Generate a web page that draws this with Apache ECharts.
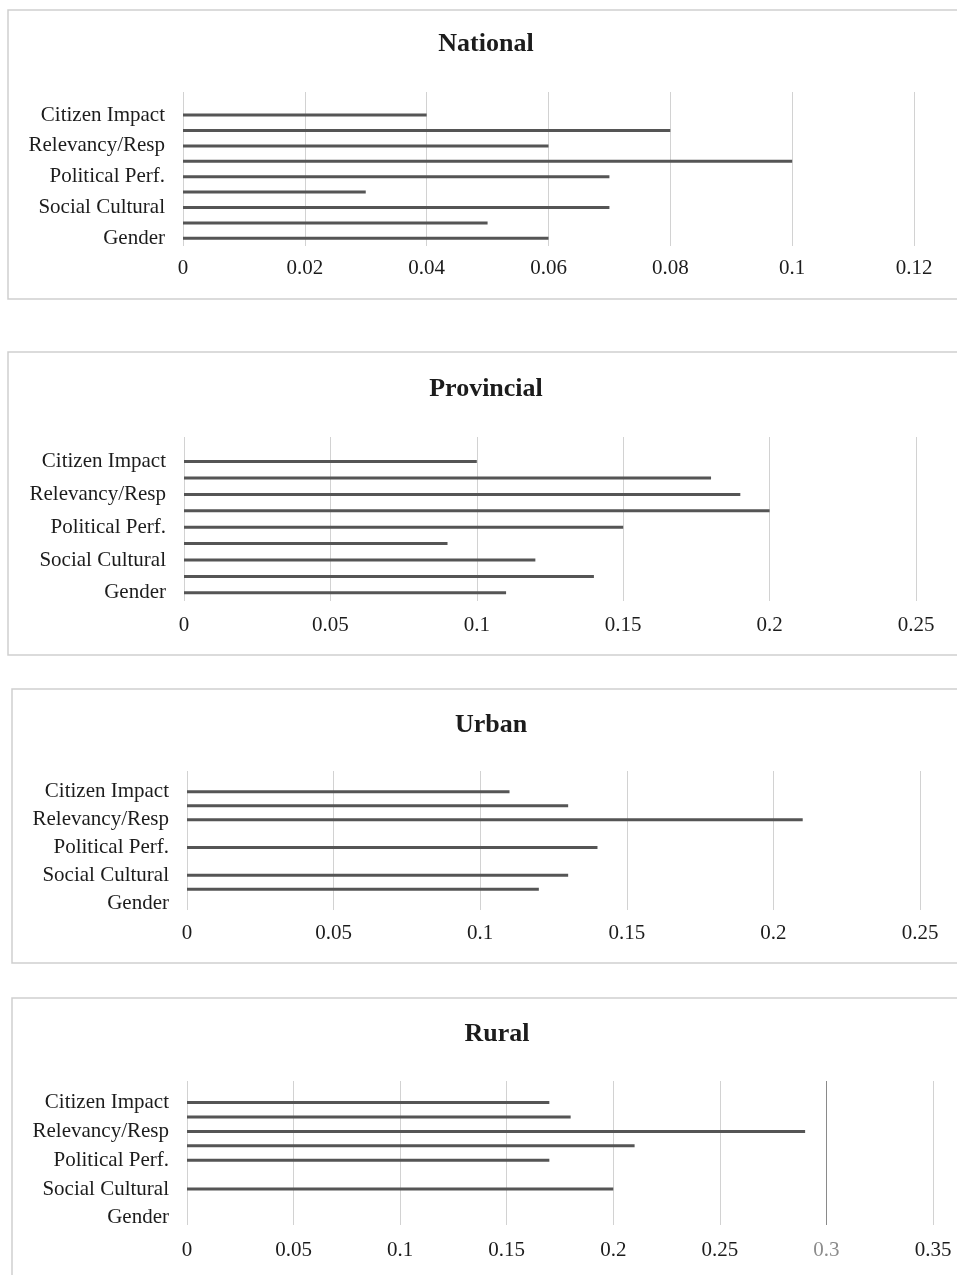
<!DOCTYPE html>
<html>
<head>
<meta charset="utf-8">
<script src="https://cdn.jsdelivr.net/npm/echarts@6/dist/echarts.min.js"></script>
<style>
html,body{margin:0;padding:0;background:#fff;}
#c{width:957px;height:1275px;}
</style>
</head>
<body>
<div id="c"></div>
<script>
// Categories, top to bottom (only every other one is labelled in the original)
var categories = ['(blank)', 'Citizen Impact', 'Accountability', 'Relevancy/Resp', 'Transparency',
                  'Political Perf.', 'Economic Perf.', 'Social Cultural', 'Legal', 'Gender'];
var panelTitles = ['National', 'Provincial', 'Urban', 'Rural'];

var nationalValues   = [0, 0.04, 0.08, 0.06, 0.10, 0.07, 0.03, 0.07, 0.05, 0.06];
var provincialValues = [0, 0.10, 0.18, 0.19, 0.20, 0.15, 0.09, 0.12, 0.14, 0.11];
var urbanValues      = [0, 0.11, 0.13, 0.21, 0, 0.14, 0, 0.13, 0.12, 0];
var ruralValues      = [0, 0.17, 0.18, 0.29, 0.21, 0.17, 0, 0.20, 0, 0];

var nationalTicks   = [0, 0.12, 0.02];
var provincialTicks = [0, 0.25, 0.05];
var urbanTicks      = [0, 0.25, 0.05];
var ruralTicks      = [0, 0.35, 0.05];

var allValues = [nationalValues, provincialValues, urbanValues, ruralValues];
var allTicks = [nationalTicks, provincialTicks, urbanTicks, ruralTicks];

var FONT = '"Liberation Serif", "Times New Roman", serif';
var TXT = '#1c1c1c';
var GRIDC = '#d2d2d2';
var BARC = '#555555';

var grids = [
  {left: 183, right: 43, top: 92, height: 154},
  {left: 184, right: 41, top: 437, height: 164},
  {left: 187, right: 37, top: 771, height: 139},
  {left: 187, right: 24, top: 1081, height: 144}
];
var xMargins = [12, 14, 13, 15];
var titlePos = [[486, 44], [486, 389], [491, 725], [497, 1034]];
var boxes = [[8, 10, 289], [8, 352, 303], [12, 689, 274], [12, 998, 300]];

var xAxes = [], yAxes = [], series = [], graphics = [];
for (var i = 0; i < 4; i++) {
  var t = allTicks[i];
  var splitColors = GRIDC;
  var labelColor = TXT;
  if (i === 3) {
    splitColors = [GRIDC, GRIDC, GRIDC, GRIDC, GRIDC, GRIDC, '#8a8a8a', GRIDC];
    labelColor = function (v) { return Math.abs(parseFloat(v) - 0.3) < 1e-6 ? '#8c8c8c' : TXT; };
  }
  xAxes.push({
    type: 'value', gridIndex: i, min: t[0], max: t[1], interval: t[2],
    axisLine: {show: false}, axisTick: {show: false},
    splitLine: {show: true, lineStyle: {color: splitColors, width: 1}},
    axisLabel: {fontFamily: FONT, fontSize: 21, color: labelColor, margin: xMargins[i],
      formatter: function (v) { return String(+v.toFixed(4)); }}
  });
  yAxes.push({
    type: 'category', gridIndex: i, data: categories, inverse: true,
    axisLine: {show: false}, axisTick: {show: false},
    splitLine: {show: false},
    axisLabel: {fontFamily: FONT, fontSize: 21, color: TXT, margin: 18,
      interval: function (idx) { return idx % 2 === 1; }}
  });
  series.push({
    type: 'bar', xAxisIndex: i, yAxisIndex: i, data: allValues[i],
    barWidth: 3, itemStyle: {color: BARC}, silent: true, animation: false
  });
  graphics.push({
    type: 'rect', shape: {x: boxes[i][0], y: boxes[i][1], width: 1000, height: boxes[i][2]},
    style: {fill: 'none', stroke: '#cfcfcf', lineWidth: 1.5}, silent: true, z: -1
  });
  graphics.push({
    type: 'text', x: titlePos[i][0], y: titlePos[i][1],
    style: {text: panelTitles[i], fontFamily: FONT, fontSize: 26, fontWeight: 'bold', fill: TXT,
      textAlign: 'center', textVerticalAlign: 'middle'}
  });
}

var chart = echarts.init(document.getElementById('c'), null, {renderer: 'canvas'});
chart.setOption({
  animation: false,
  backgroundColor: '#fff',
  grid: grids,
  xAxis: xAxes,
  yAxis: yAxes,
  series: series,
  graphic: graphics
});
</script>
</body>
</html>
